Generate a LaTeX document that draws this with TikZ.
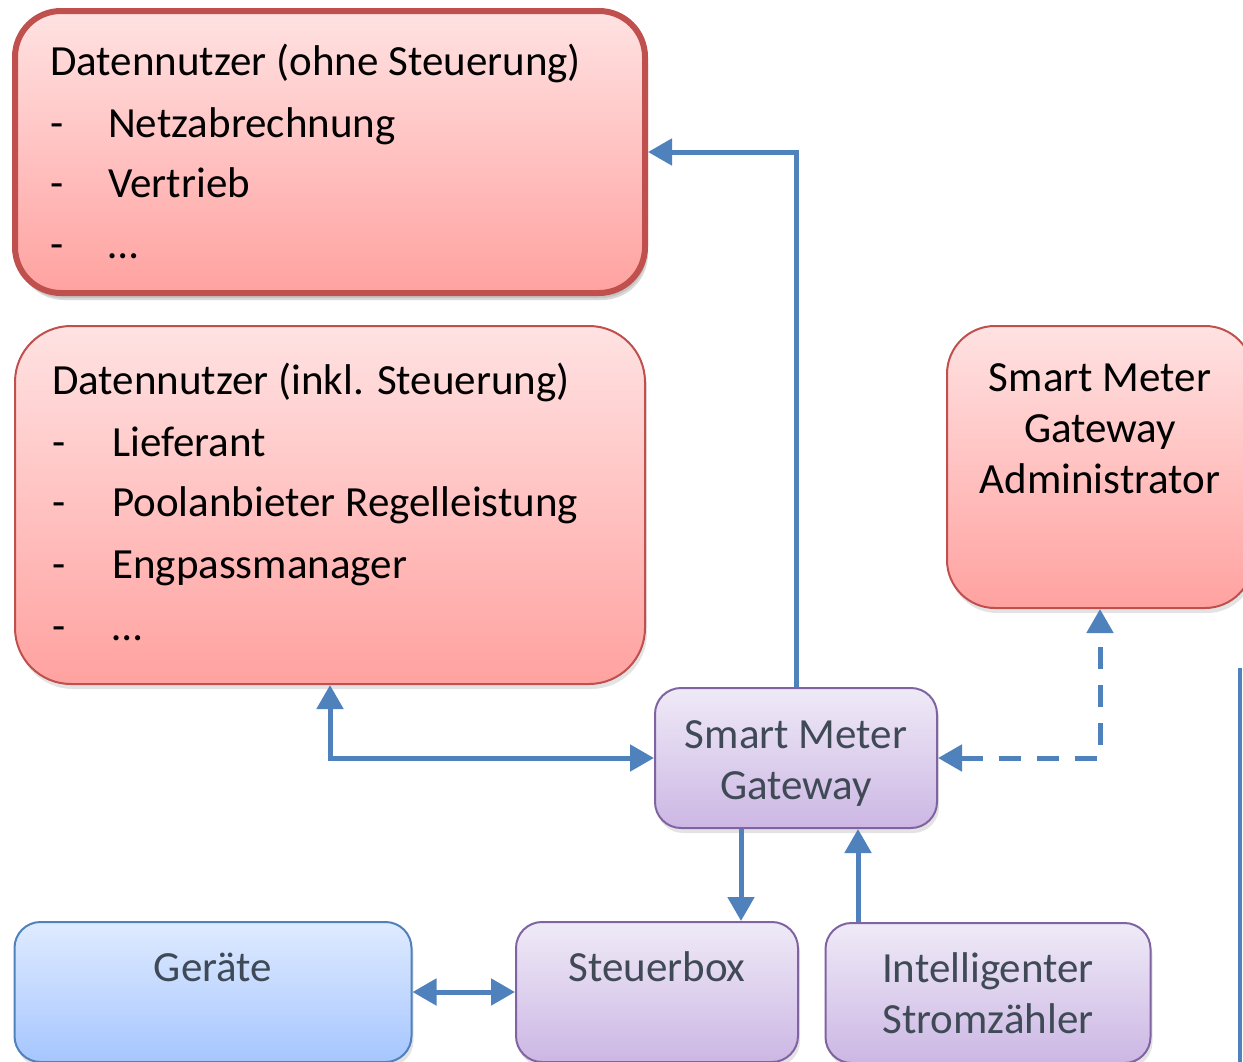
\documentclass[tikz,border=0pt]{standalone}
\usepackage{fontspec}
\setmainfont{Carlito}
\usetikzlibrary{arrows.meta,shadows}
\definecolor{redline}{HTML}{C0504D}
\definecolor{redtop}{HTML}{FFE2E2}
\definecolor{redbot}{HTML}{FFA2A0}
\definecolor{violine}{HTML}{8064A2}
\definecolor{viotop}{HTML}{EFEAF7}
\definecolor{viobot}{HTML}{CCB7E4}
\definecolor{blueline}{HTML}{4F81BD}
\definecolor{bluetop}{HTML}{DFEBFF}
\definecolor{bluebot}{HTML}{A6C6FF}
\definecolor{greytext}{HTML}{3F4A56}
\begin{document}
\begin{tikzpicture}[x=1pt,y=-1pt,
    font=\fontsize{43}{51}\selectfont,
    >={Triangle[length=24pt,width=26pt]},
    shade/.style={drop shadow={opacity=0.22,shadow xshift=2pt,shadow yshift=-5pt}},
    redbox/.style={shade,draw=redline,line width=2,top color=redtop,bottom color=redbot,rounded corners=48},
    viobox/.style={shade,draw=violine,line width=2,top color=viotop,bottom color=viobot,rounded corners=26,text=greytext,align=center},
    bluebox/.style={shade,draw=blueline,line width=2,top color=bluetop,bottom color=bluebot,rounded corners=26},
    txt/.style={inner sep=0pt,anchor=base west},
    link/.style={draw=blueline,line width=5}]
  \useasboundingbox (0,0) rectangle (1243,1061);
  \clip (0,0) rectangle (1243,1061);

  \node[redbox,line width=6,rounded corners=46,drop shadow={opacity=0.3,shadow xshift=3pt,shadow yshift=-7pt},
        minimum width=630,minimum height=282] (ohne) at (330,152) {};
  \node[redbox,rounded corners=56,minimum width=630,minimum height=358] (inkl) at (330,505) {};
  \node[redbox,minimum width=306,minimum height=282] (admin) at (1100,467) {};
  \node[viobox,minimum width=282,minimum height=140] (smg) at (796,758) {};
  \node[bluebox,minimum width=397,minimum height=140] (ger) at (213,992) {};
  \node[viobox,minimum width=282,minimum height=140] (stb) at (657,992) {};
  \node[viobox,minimum width=325,minimum height=140] (szb) at (988,993) {Intelligenter\\Stromzähler};

  \node[txt] (o0) at (50,75) {Datennutzer (ohne Steuerung)};
  \node[txt] (o1) at (50,137) {-};
  \node[txt] (o2) at (50,197) {-};
  \node[txt] (o3) at (50,258) {-};
  \node[txt] (o1t) at (108,137) {Netzabrechnung};
  \node[txt] (o2t) at (108,197) {Vertrieb};
  \node[txt] (o3t) at (108,258) {…};

  \node[txt] (i0) at (52,394) {Datennutzer (inkl. Steuerung)};
  \node[txt] (i1) at (52,456) {-};
  \node[txt] (i2) at (52,516) {-};
  \node[txt] (i3) at (52,578) {-};
  \node[txt] (i4) at (52,640) {-};
  \node[txt] (i1t) at (112,456) {Lieferant};
  \node[txt] (i2t) at (112,516) {Poolanbieter Regelleistung};
  \node[txt] (i3t) at (112,578) {Engpassmanager};
  \node[txt] (i4t) at (112,640) {…};

  \node[align=center,inner sep=0pt] (adminT) at (1100,429) {Smart Meter\\Gateway\\Administrator};
  \node[align=center,inner sep=0pt,text=greytext] (smgT) at (796,764) {Smart Meter\\Gateway};
  \node[txt,anchor=base,text=greytext] (gerT) at (213,981) {Geräte};
  \node[txt,anchor=base,text=greytext] (stbT) at (657,981) {Steuerbox};

  \draw[link,->] (smg.north) |- (ohne.east);
  \draw[link,<->] (inkl.south) |- (smg.west);
  \draw[link,<->,dash pattern=on 22pt off 16pt] (smg.east) -| (admin.south);
  \draw[link,->] ([xshift=-55pt]smg.south) -- ([xshift=-55pt]smg.south |- stb.north);
  \draw[link,->] ([xshift=62pt]smg.south |- szb.north) -- ([xshift=62pt]smg.south);
  \draw[link,<->] (ger.east) -- (stb.west);

  \draw[blueline,line width=4] (1240,668) -- (1240,1070);
\end{tikzpicture}
\end{document}
